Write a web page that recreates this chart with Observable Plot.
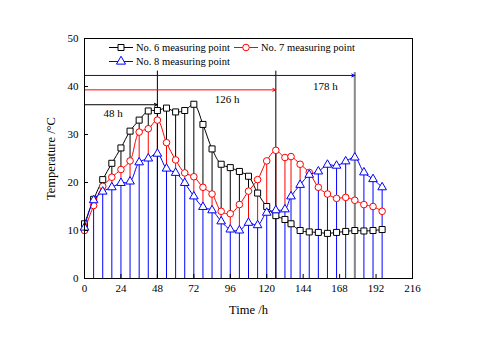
<!DOCTYPE html>
<html>
<head>
<meta charset="utf-8">
<script src="https://cdn.jsdelivr.net/npm/d3@7"></script>
<script src="https://cdn.jsdelivr.net/npm/@observablehq/plot@0.6"></script>
<style>
  html, body { margin: 0; padding: 0; background: #fff; }
  #wrap { position: relative; width: 480px; height: 338px; }
  #wrap svg { position: absolute; left: 0; top: 0; }
</style>
</head>
<body>
<div id="wrap"></div>
<script>
// ---- data ----
const times = [0,6,12,18,24,30,36,42,48,54,60,66,72,78,84,90,96,102,108,114,120,126,132,136,142,148,154,160,166,172,178,184,190,196];
const point6 = [11.4,16.5,20.6,24.0,27.2,30.7,33.0,34.9,35.0,35.5,34.7,35.0,36.3,32.1,27.0,23.8,23.1,22.3,21.3,17.8,15.0,13.1,12.3,11.4,10.0,9.7,9.6,9.4,9.6,9.8,10.0,9.9,10.0,10.2];
const point7 = [10.0,15.2,19.2,21.1,22.7,24.5,30.5,31.2,33.0,28.3,24.7,22.0,21.2,19.0,17.6,14.0,13.5,15.4,18.2,20.6,24.5,26.7,25.2,25.4,23.8,22.1,19.0,17.6,16.7,16.9,16.3,15.4,15.0,14.0];
const point8 = [10.6,16.3,18.1,19.0,19.9,20.2,24.2,25.0,26.0,22.9,22.0,19.9,17.1,14.9,14.2,11.9,10.2,10.0,11.6,11.1,13.7,14.2,14.4,17.1,19.5,21.6,22.3,23.7,23.5,24.4,25.2,22.1,20.7,19.0];
const seriesNames = ["No. 6 measuring point", "No. 7 measuring point", "No. 8 measuring point"];
const peakTimes = [48, 126, 178];
const peakLevels = [36.2, 39.3, 42.3];
const peakLabels = ["48 h", "126 h", "178 h"];
const xTicks = [0,24,48,72,96,120,144,168,192,216];
const yTicks = [0,10,20,30,40,50];

// ---- styling ----
const colors = ["#000000", "#ff0000", "#0000ff"];
const symbols = ["square", "circle", "triangle"];
const font = "'Liberation Serif', 'Times New Roman', serif";

const allVals = [point6, point7, point8];
const series = allVals.map((vals, i) =>
  times.map((t, j) => {
    // a stem is visible only above the series drawn on top of it
    const floor = Math.max(0, ...allVals.slice(i + 1).map(a => a[j]));
    return {t, v: vals[j], floor, s: seriesNames[i]};
  }));

const refs = peakTimes.map((t, i) => ({t, y: peakLevels[i], label: peakLabels[i], c: colors[i]}));
const labelPos = [
  {t: 18.8, y: 34.3}, {t: 94, y: 37.4}, {t: 158.6, y: 40.1}
];

const marks = [];
// stems
series.forEach((d, i) => {
  marks.push(Plot.ruleX(d.filter(p => p.v > p.floor), {x: "t", y1: "floor", y2: "v", stroke: colors[i], strokeWidth: 1}));
});
// reference verticals
marks.push(Plot.ruleX(refs.slice(0, 2), {x: "t", y1: 0, y2: 43.2, stroke: "#000", strokeWidth: 1}));
marks.push(Plot.ruleX(refs.slice(2), {x: "t", y1: 0, y2: 42.9, stroke: "#888", strokeWidth: 2}));
// arrows
refs.forEach((r, i) => {
  marks.push(Plot.arrow([r], {x1: 0, x2: "t", y1: "y", y2: "y", stroke: r.c, strokeWidth: 1, headLength: 5, headAngle: 50}));
  marks.push(Plot.text([r], {x: () => labelPos[i].t, y: () => labelPos[i].y, text: "label", fill: "#000", fontSize: 11, fontFamily: font}));
});
// lines + markers
series.forEach((d, i) => {
  marks.push(Plot.line(d, {x: "t", y: "v", stroke: colors[i], strokeWidth: 1, curve: "catmull-rom"}));
  marks.push(Plot.dot(d, {x: "t", y: "v", symbol: () => symbols[i], stroke: colors[i], fill: "#fff", r: i === 0 ? 3.4 : (i === 1 ? 3.3 : 3.2), strokeWidth: 1}));
});
// inward ticks
marks.push(Plot.ruleX(xTicks, {x: d => d, y1: 0, y2: 0.85, stroke: "#000"}));
marks.push(Plot.ruleY(yTicks, {y: d => d, x1: 0, x2: 2.6, stroke: "#000"}));
marks.push(Plot.frame({stroke: "#000", strokeWidth: 1}));
marks.push(Plot.axisX(xTicks, {tickSize: 0, tickPadding: 6, label: null, fontSize: 11, fontFamily: font}));
marks.push(Plot.axisY(yTicks, {tickSize: 0, tickPadding: 6, label: null, fontSize: 11, fontFamily: font}));
marks.push(Plot.axisX({ticks: [], label: "Time /h", labelAnchor: "center", labelOffset: 35, labelArrow: "none", fontSize: 12.5, fontFamily: font}));
marks.push(Plot.axisY({ticks: [], label: "Temperature /°C", labelAnchor: "center", labelOffset: 38, labelArrow: "none", fontSize: 12.5, fontFamily: font}));

const chart = Plot.plot({
  width: 480,
  height: 338,
  marginLeft: 84,
  marginRight: 68,
  marginTop: 38,
  marginBottom: 60,
  x: {domain: [0, 216]},
  y: {domain: [0, 50]},
  style: {fontFamily: font, fontSize: "11px", background: "#fff", color: "#000"},
  marks
});
const wrap = document.getElementById("wrap");
wrap.appendChild(chart);

// ---- legend overlay ----
const leg = d3.select(wrap).append("svg").attr("width", 480).attr("height", 338).style("pointer-events", "none");
const legendItems = [
  {x: 109, y: 47, i: 0}, {x: 234, y: 47, i: 1}, {x: 109, y: 61, i: 2}
];
const sym = [d3.symbolSquare, d3.symbolCircle, d3.symbolTriangle];
legendItems.forEach(({x, y, i}) => {
  const g = leg.append("g");
  g.append("line").attr("x1", x).attr("x2", x + 24).attr("y1", y + 0.5).attr("y2", y + 0.5).attr("stroke", colors[i]).attr("stroke-width", 1);
  g.append("path").attr("d", d3.symbol(sym[i], i === 1 ? 34 : 36)()).attr("transform", `translate(${x + 12},${y + 0.5})`)
    .attr("fill", "#fff").attr("stroke", colors[i]).attr("stroke-width", 1);
  g.append("text").attr("x", x + 27).attr("y", y).attr("dy", "0.35em").attr("font-family", font).attr("font-size", 10.5).attr("fill", "#000").text(seriesNames[i]);
});
</script>
</body>
</html>
